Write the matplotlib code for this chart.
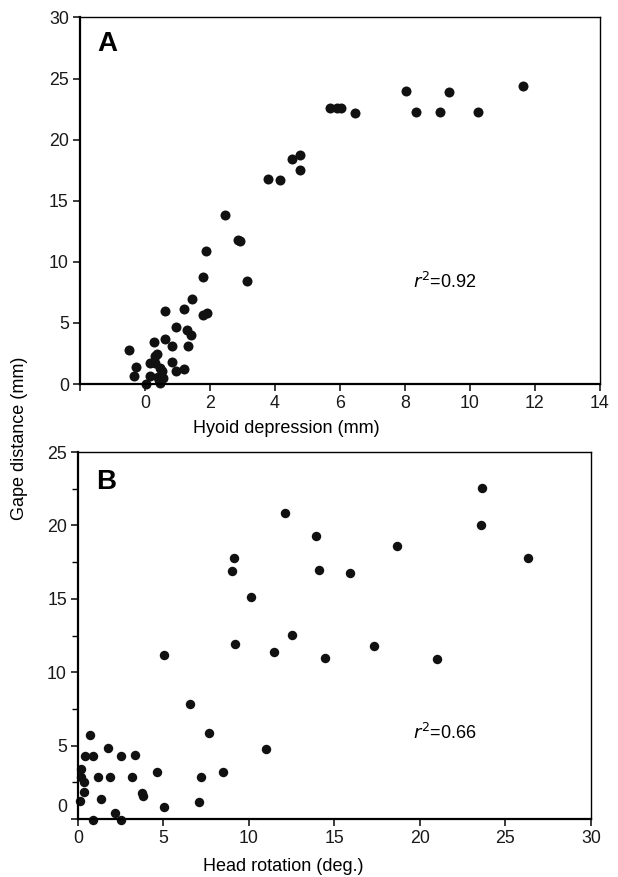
import matplotlib
matplotlib.use('Agg')
import matplotlib.pyplot as plt
import matplotlib.transforms as mtransforms
import numpy as np

plt.rcParams['font.family'] = ['Liberation Sans', 'DejaVu Sans']

# Panel A: hyoid depression (mm) vs gape distance (mm)
hyoid_x = [-0.48, -0.29, -0.35, 0.03, 0.16, 0.17, 0.29, 0.30, 0.36, 0.31, 0.46, 0.52,
           0.57, 0.44, 0.47, 0.40, 0.62, 0.63, 0.83, 0.84, 0.94, 0.95, 1.19, 1.19,
           1.29, 1.32, 1.42, 1.45, 1.80, 1.88, 1.80, 1.91, 2.46, 2.85, 2.92, 3.13,
           3.79, 4.15, 4.51, 4.78, 4.76, 5.68, 5.91, 6.04, 6.45, 8.03, 8.35, 9.08,
           9.37, 10.24, 11.62]
hyoid_gape = [2.78, 1.42, 0.68, 0.00, 0.65, 1.75, 3.45, 2.30, 2.43, 1.72, 1.28, 1.10,
              0.52, 0.33, 0.06, 0.60, 3.72, 6.00, 3.14, 1.77, 4.66, 1.06, 6.15, 1.20,
              4.40, 3.10, 3.98, 6.93, 5.62, 10.90, 8.78, 5.78, 13.80, 11.78, 11.70, 8.43,
              16.77, 16.69, 18.43, 18.76, 17.53, 22.55, 22.55, 22.63, 22.14, 24.00, 22.23, 22.23,
              23.90, 22.28, 24.39]

# Panel B: head rotation (deg.) vs gape distance (mm)
head_x = [0.69, 0.15, 0.15, 0.34, 0.40, 0.90, 0.34, 0.12, 1.17, 1.37, 0.90, 1.76,
          1.86, 2.16, 2.50, 2.54, 3.32, 3.18, 3.72, 3.80, 4.63, 5.05, 5.04, 6.53,
          7.66, 7.22, 7.06, 8.46, 9.01, 9.13, 9.17, 10.12, 11.01, 11.49, 12.11, 12.50,
          13.90, 14.10, 14.44, 15.90, 18.63, 17.33, 21.01, 23.55, 23.63, 26.32]
head_gape = [5.72, 3.40, 2.87, 2.50, 4.26, 4.26, 1.86, 1.26, 2.84, 1.35, -0.10, 4.84,
             2.84, 0.43, -0.08, 4.32, 4.34, 2.86, 1.75, 1.58, 3.20, 0.85, 11.19, 7.83,
             5.85, 2.89, 1.18, 3.20, 16.92, 17.78, 11.92, 15.10, 4.75, 11.40, 20.82, 12.53,
             19.25, 16.96, 10.94, 16.73, 18.62, 11.76, 10.90, 20.05, 22.57, 17.78]


def style_axes(ax):
    for s in ['left', 'bottom']:
        ax.spines[s].set_linewidth(1.6)
    for s in ['top', 'right']:
        ax.spines[s].set_linewidth(1.0)
    ax.tick_params(direction='out', length=5, width=1.2, labelsize=12.8,
                   colors='#1a1a1a', pad=3)
    ax.tick_params(which='minor', direction='out', length=4, width=1.0)


fig = plt.figure(figsize=(6.18, 8.77), dpi=100)

# ---- panel A
axA = fig.add_axes([0.1294, 0.5621, 0.8414, 0.418])
axA.plot(hyoid_x, hyoid_gape, 'o', color='#111111', markersize=7.2,
         markeredgewidth=0, clip_on=False)
axA.set_xlim(-2, 14)
axA.set_ylim(0, 30)
axA.set_xticks(np.arange(-2, 15, 2))
axA.set_xticklabels([''] + [str(v) for v in range(0, 15, 2)])
axA.set_yticks(np.arange(0, 31, 5))
style_axes(axA)
axA.set_xlabel('Hyoid depression (mm)', fontsize=13)
axA.xaxis.set_label_coords(0.396, -0.098)
axA.text(0.033, 0.962, 'A', transform=axA.transAxes, fontsize=20,
         fontweight='bold', va='top', ha='left')
axA.text(8.25, 8.35, r'$\mathit{r}^2$=0.92', fontsize=13, va='center', ha='left')

# ---- panel B
axB = fig.add_axes([0.1262, 0.0661, 0.830, 0.4185])
axB.plot(head_x, head_gape, 'o', color='#111111', markersize=6.8,
         markeredgewidth=0, clip_on=False)
axB.set_xlim(0, 30)
axB.set_ylim(0, 25)
axB.set_xticks(np.arange(0, 31, 5))
axB.set_yticks(np.arange(0, 26, 5))
axB.set_yticks(np.arange(2.5, 25, 5), minor=True)
style_axes(axB)
# the zero label sits a little above its tick in the original
lbl0 = axB.get_yticklabels()[0]
lbl0.set_transform(lbl0.get_transform() +
                   mtransforms.ScaledTranslation(0, 10 / 72, fig.dpi_scale_trans))
axB.set_xlabel('Head rotation (deg.)', fontsize=13)
axB.xaxis.set_label_coords(0.40, -0.107)
axB.text(0.035, 0.955, 'B', transform=axB.transAxes, fontsize=20,
         fontweight='bold', va='top', ha='left')
axB.text(19.6, 5.86, r'$\mathit{r}^2$=0.66', fontsize=13, va='center', ha='left')

fig.text(0.031, 0.5, 'Gape distance (mm)', rotation=90, fontsize=13,
         va='center', ha='center')

fig.savefig('out.png', dpi=100)
